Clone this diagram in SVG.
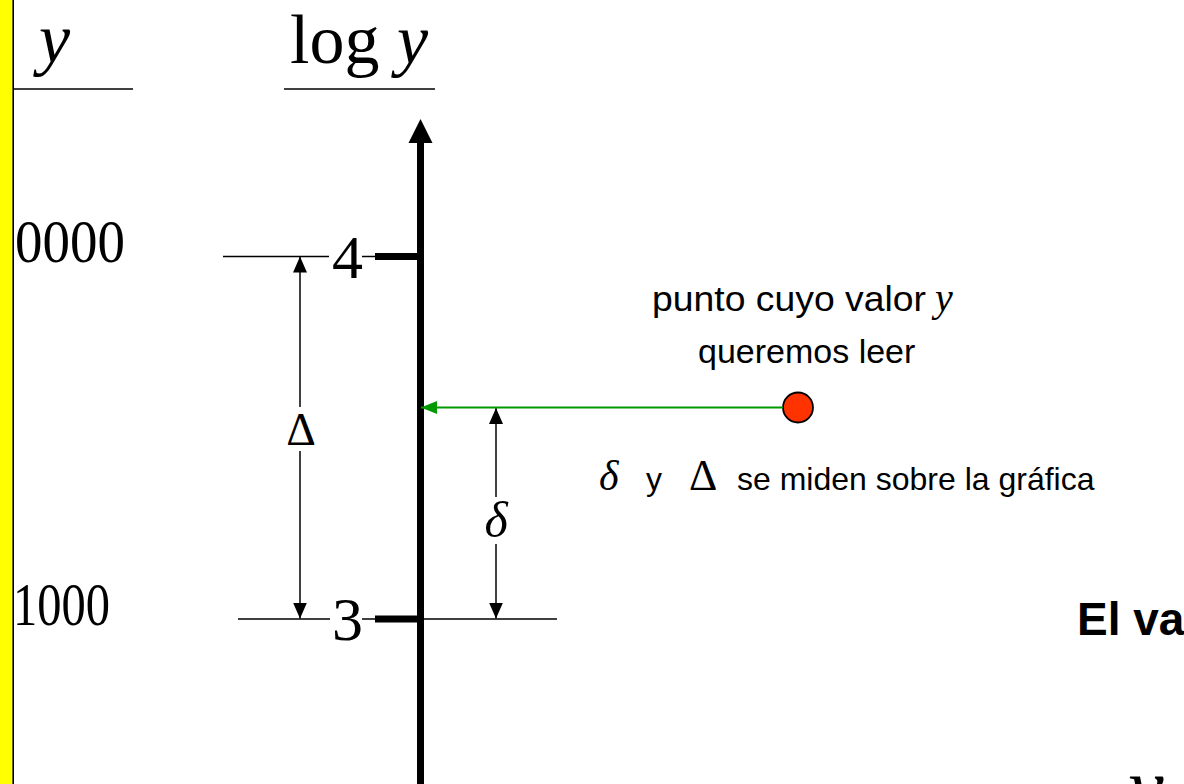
<svg xmlns="http://www.w3.org/2000/svg" width="1184" height="784" viewBox="0 0 1184 784">
<style>
.serif{font-family:"Liberation Serif","Times New Roman",serif;fill:#000}
.it{font-style:italic}
.sans{font-family:"Liberation Sans",Arial,sans-serif;fill:#000}
.thin{stroke:#000;stroke-width:1.5;fill:none}
.tick{stroke:#000;stroke-width:7;fill:none}
</style>
<defs>
<marker id="ah" viewBox="0 0 16 14" refX="16" refY="7" markerWidth="16" markerHeight="14" markerUnits="userSpaceOnUse" orient="auto">
<path d="M0,0 L16,7 L0,14 Z" fill="#000"/>
</marker>
<marker id="ag" viewBox="0 0 16 14" refX="16" refY="7" markerWidth="16" markerHeight="14" markerUnits="userSpaceOnUse" orient="auto">
<path d="M0,0.5 L16,7 L0,13.5 Z" fill="#009900"/>
</marker>
</defs>
<rect width="1184" height="784" fill="#fff"/>
<g id="left-bar">
<rect x="0" y="0" width="12.5" height="784" fill="#FFFF00"/>
<line x1="13.2" y1="0" x2="13.2" y2="784" stroke="#000" stroke-width="1.6"/>
</g>
<g id="y-header">
<text class="serif it" x="39" y="62" font-size="70">y</text>
<line class="thin" x1="13" y1="89" x2="133" y2="89"/>
</g>
<g id="logy-header">
<text class="serif" x="290" y="63" font-size="70">log <tspan class="it">y</tspan></text>
<line class="thin" x1="284" y1="89" x2="435" y2="89"/>
</g>
<g id="label-10000">
<text class="serif" x="15" y="262" font-size="62" textLength="110" lengthAdjust="spacingAndGlyphs">0000</text>
</g>
<g id="label-1000">
<text class="serif" x="13" y="625" font-size="62" textLength="97" lengthAdjust="spacingAndGlyphs">1000</text>
</g>
<g id="axis">
<line x1="420.5" y1="140" x2="420.5" y2="784" stroke="#000" stroke-width="7"/>
<path d="M420.5,119 L432.5,143 L408.5,143 Z" fill="#000"/>
</g>
<g id="tick-4">
<line class="thin" x1="223" y1="256.5" x2="329" y2="256.5"/>
<text class="serif" x="332" y="278" font-size="62">4</text>
<line class="thin" x1="362" y1="256.5" x2="376" y2="256.5"/>
<line class="tick" x1="375" y1="256.5" x2="420" y2="256.5"/>
</g>
<g id="tick-3">
<line class="thin" x1="238" y1="619" x2="330" y2="619"/>
<text class="serif" x="332" y="640" font-size="62">3</text>
<line class="thin" x1="362" y1="619" x2="376" y2="619"/>
<line class="tick" x1="375" y1="619" x2="420" y2="619"/>
<line class="thin" x1="424" y1="619" x2="557" y2="619"/>
</g>
<g id="delta-big">
<text class="serif" x="301" y="445" font-size="46" text-anchor="middle">Δ</text>
</g>
<g id="delta-small">
<text class="serif it" x="496" y="537" font-size="50" text-anchor="middle">δ</text>
</g>
<g id="point">
<circle cx="798" cy="407.5" r="15" fill="#FF3300" stroke="#000" stroke-width="1.8"/>
</g>
<g id="point-label">
<text class="sans" x="652" y="311" font-size="35" textLength="274" lengthAdjust="spacingAndGlyphs">punto cuyo valor</text>
<text class="serif it" x="935" y="311" font-size="40">y</text>
<text class="sans" x="698" y="363" font-size="34">queremos leer</text>
</g>
<g id="measure-note">
<text class="serif it" x="599" y="490" font-size="42">δ</text>
<text class="sans" x="646" y="490" font-size="32">y</text>
<text class="serif" x="689" y="490" font-size="44">Δ</text>
<text class="sans" x="737" y="490" font-size="32">se miden sobre la gráfica</text>
</g>
<g id="result-title">
<text class="sans" x="1077" y="635" font-size="46" font-weight="bold">El va</text>
</g>
<g id="result-formula">
<text class="serif it" x="1128" y="814" font-size="80">y</text>
</g>
<g id="connectors">
<line class="thin" x1="300" y1="407" x2="300" y2="256.5" marker-end="url(#ah)"/>
<line class="thin" x1="300" y1="451" x2="300" y2="618.5" marker-end="url(#ah)"/>
<line class="thin" x1="496" y1="497" x2="496" y2="408" marker-end="url(#ah)"/>
<line class="thin" x1="496" y1="544" x2="496" y2="618.5" marker-end="url(#ah)"/>
<line x1="783" y1="407.5" x2="421" y2="407.5" stroke="#009900" stroke-width="2" marker-end="url(#ag)"/>
</g>
</svg>
